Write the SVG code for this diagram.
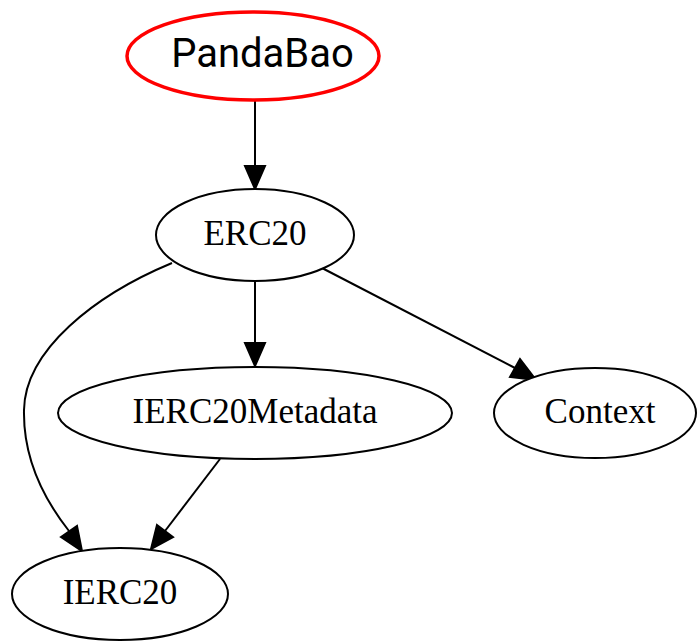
<svg xmlns="http://www.w3.org/2000/svg" width="697" height="641" viewBox="0 0 697 641">
  <style>
    .node ellipse { fill: #ffffff; stroke: #000000; stroke-width: 2; }
    .node text { font-family: "Liberation Serif", "Times New Roman", serif; font-size: 35px; text-anchor: middle; fill: #000000; }
    .root ellipse { stroke: #ff0000; stroke-width: 3.5; }
    .root text { font-family: Roboto, "Liberation Sans", sans-serif; font-size: 40px; }
    .edge { fill: none; stroke: #000000; stroke-width: 2; }
    .head { fill: #000000; stroke: #000000; stroke-width: 2; }
  </style>
  <rect width="697" height="641" fill="#ffffff"/>

  <g id="connectors">
    <!-- PandaBao -> ERC20 -->
    <path class="edge" d="M255,101 L255,166"/>
    <polygon class="head" points="245,166 265,166 255,189"/>
    <!-- ERC20 -> IERC20Metadata -->
    <path class="edge" d="M255,281 L255,343"/>
    <polygon class="head" points="245,343 265,343 255,366"/>
    <!-- ERC20 -> Context -->
    <path class="edge" d="M322,268 L515,368"/>
    <polygon class="head" points="510,377 520,359 536,380"/>
    <!-- ERC20 -> IERC20 -->
    <path class="edge" d="M172,263 C95,295 25,350 24,410 C23,462 47,503 69,531"/>
    <polygon class="head" points="61,537 77,526 82,551"/>
    <!-- IERC20Metadata -> IERC20 -->
    <path class="edge" d="M220,459 L165,531"/>
    <polygon class="head" points="157,525 173,537 151,549"/>
  </g>

  <g id="PandaBao" class="node root">
    <ellipse cx="253" cy="56" rx="126" ry="44"/>
    <text x="262.5" y="67">PandaBao</text>
  </g>

  <g id="ERC20" class="node">
    <ellipse cx="255" cy="235" rx="99" ry="46"/>
    <text x="255" y="245">ERC20</text>
  </g>

  <g id="IERC20Metadata" class="node">
    <ellipse cx="255" cy="413" rx="197" ry="46"/>
    <text x="255" y="423">IERC20Metadata</text>
  </g>

  <g id="Context" class="node">
    <ellipse cx="595" cy="413" rx="101" ry="45"/>
    <text x="600" y="423">Context</text>
  </g>

  <g id="IERC20" class="node">
    <ellipse cx="120" cy="594" rx="108" ry="46"/>
    <text x="120" y="604">IERC20</text>
  </g>
</svg>
